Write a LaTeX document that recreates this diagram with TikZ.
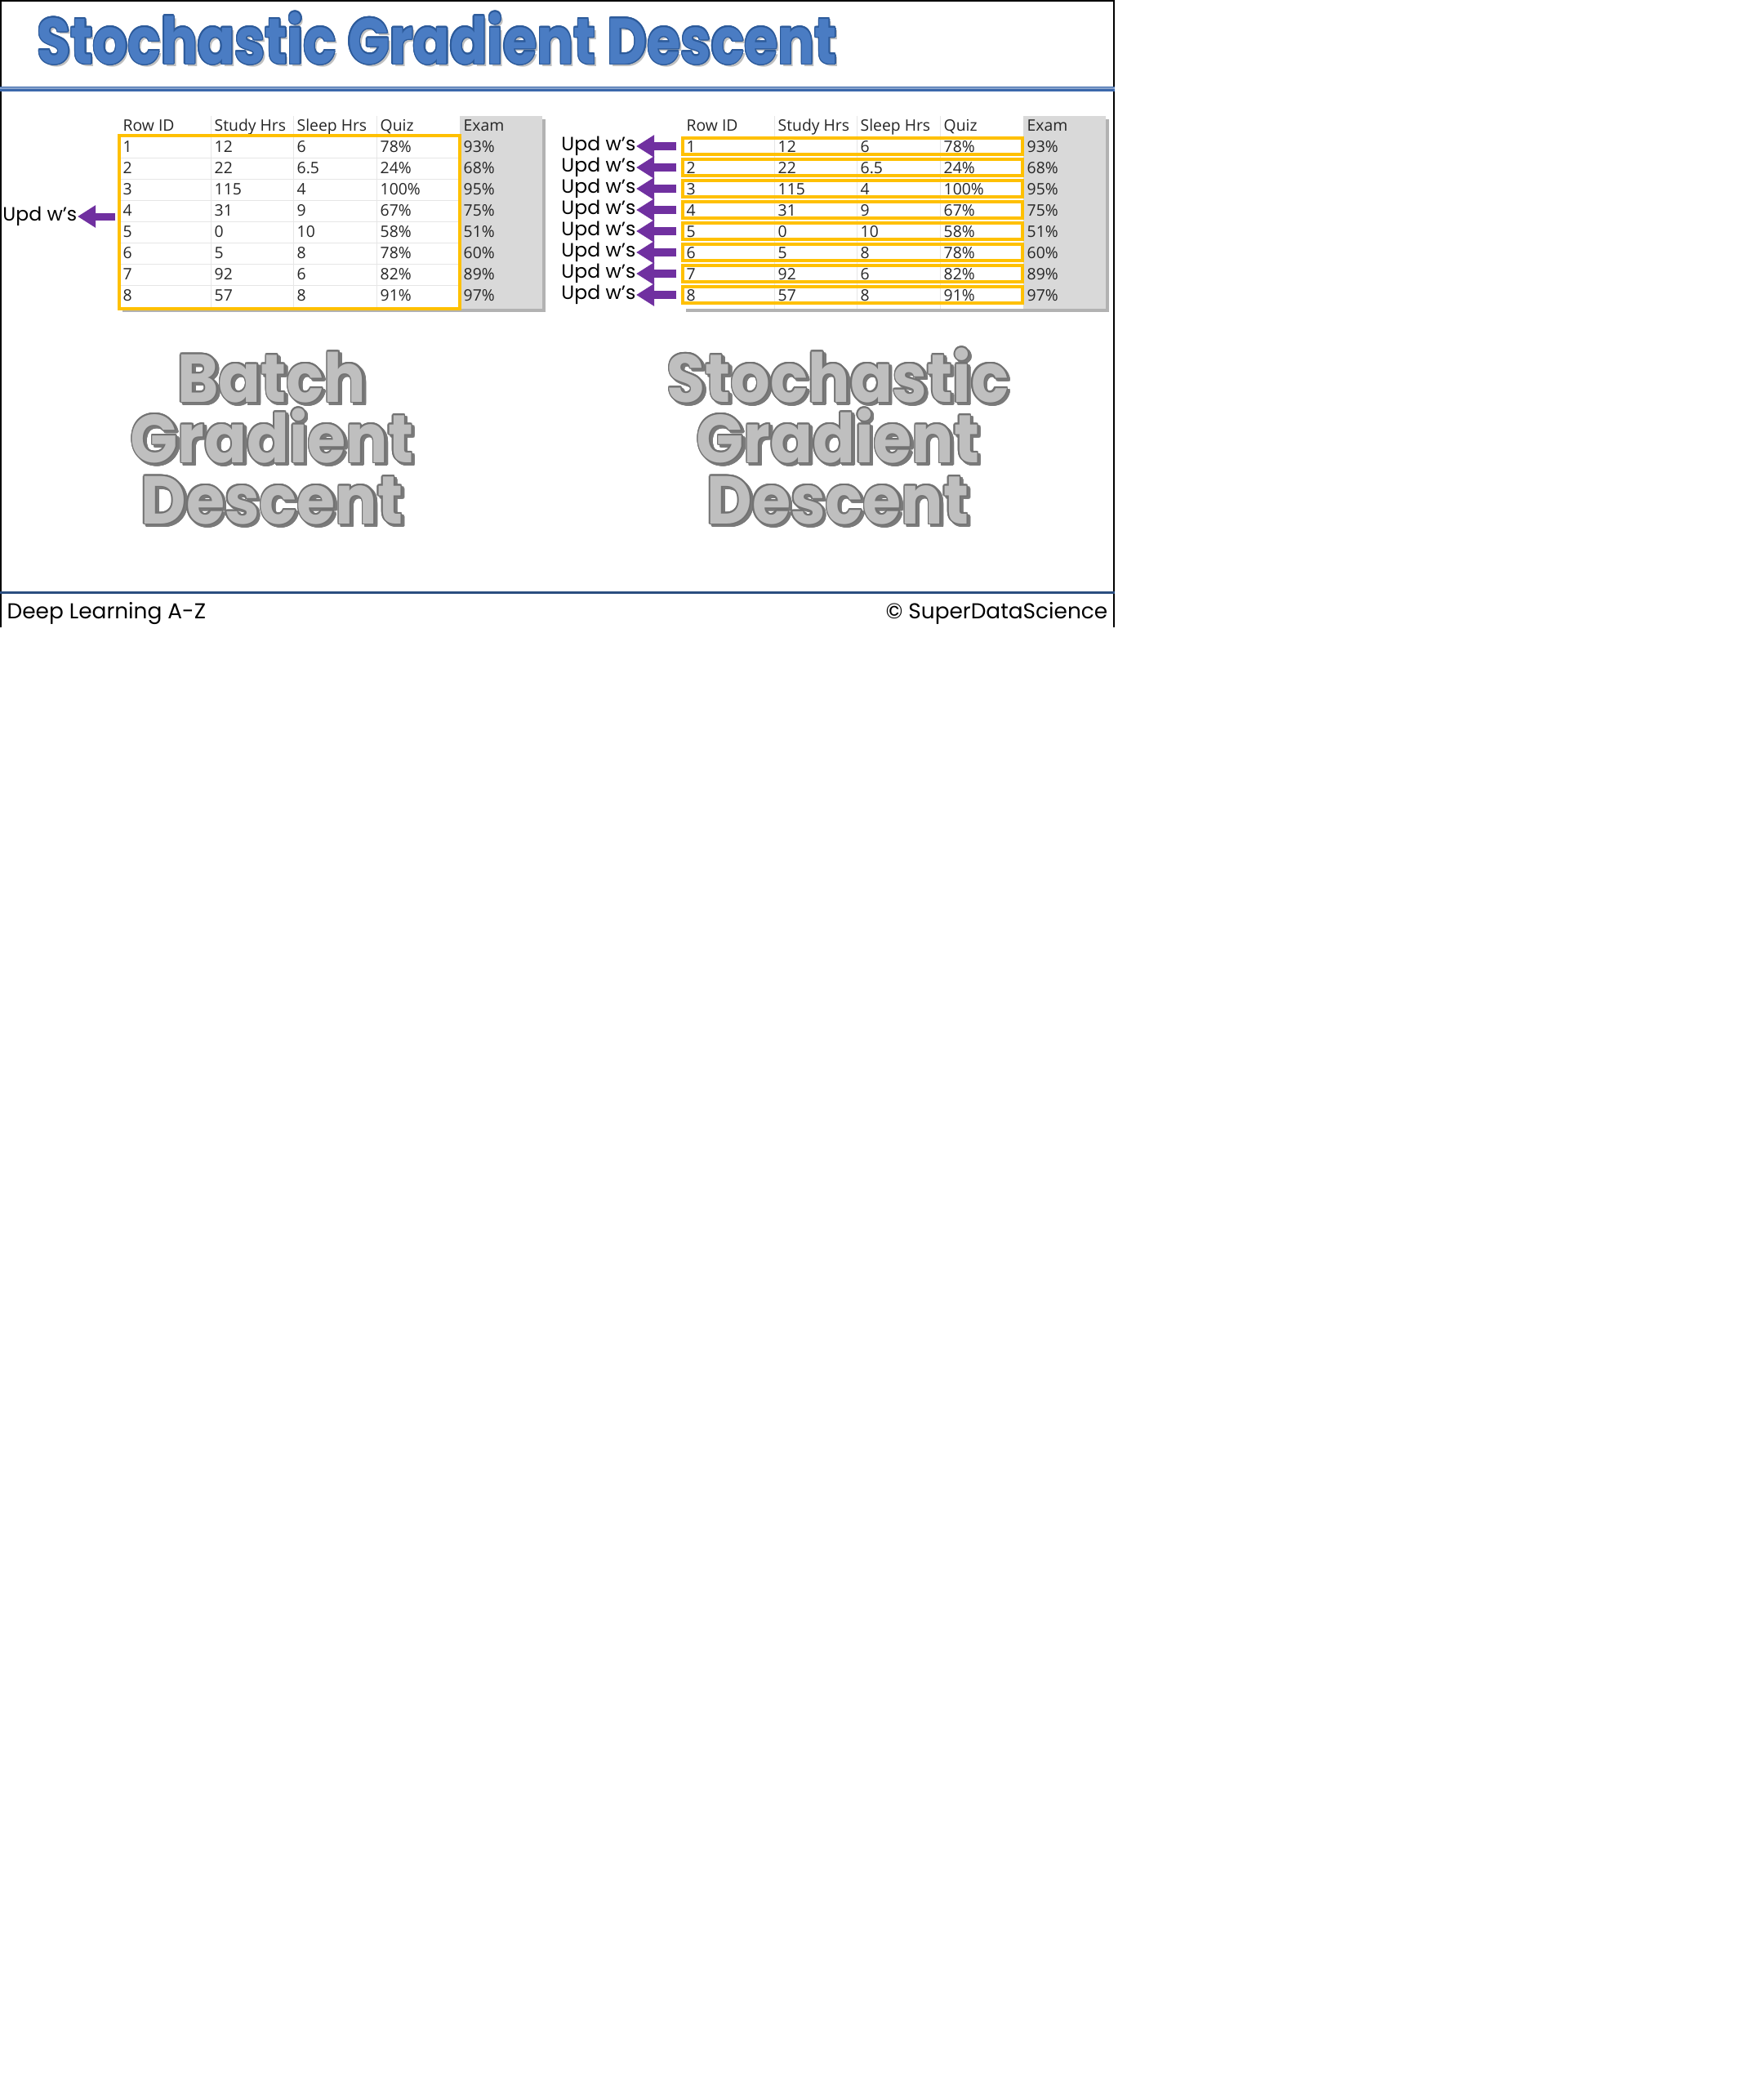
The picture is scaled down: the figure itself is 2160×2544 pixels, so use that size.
\documentclass[tikz,border=0pt]{standalone}
\usepackage{fontspec}
\setmainfont{Poppins}
\newfontfamily\tablefont{Open Sans}
\usepackage{xcolor}
\usepackage{tikz}
\usepackage{contour}
\usetikzlibrary{arrows.meta}

\definecolor{titleblue}{HTML}{4A7CC3}
\definecolor{titleedge}{HTML}{2C5A9A}
\definecolor{ruleblue}{HTML}{3B68AB}
\definecolor{footblue}{HTML}{2B4E80}
\definecolor{boxyellow}{HTML}{FFC000}
\definecolor{updpurple}{HTML}{7030A0}
\definecolor{examgray}{HTML}{D9D9D9}
\definecolor{gridgray}{HTML}{E6E6E6}
\definecolor{bigfill}{HTML}{BFBFBF}
\definecolor{bigedge}{HTML}{727272}
\definecolor{bigshadow}{HTML}{7A7A7A}

\begin{document}
\begin{tikzpicture}[x=0.01cm, y=-0.01cm,
    cell/.style={anchor=base west, inner sep=0pt, text=black!85,
      font=\tablefont\fontsize{5.5}{6}\selectfont},
    updtext/.style={anchor=east, inner sep=0pt, font=\fontsize{6.7}{7}\selectfont},
    updarrow/.style={-{Triangle[length=2.2mm, width=2.6mm]}, line width=1mm, draw=updpurple},
    bigword/.style={anchor=base, inner sep=0pt, font=\bfseries\fontsize{23.6}{24}\selectfont},
    rowbox/.style={draw=boxyellow, line width=0.4mm, minimum width=4.15cm, minimum height=0.2cm, inner sep=0pt}]
        \useasboundingbox (0,0) rectangle (2160,2544);

        % Slide frame and rules
        \draw[line width=0.2mm] (1,768) -- (1,1) -- (1364,1) -- (1364,768);
        \draw[ruleblue, line width=0.65mm] (0,109) -- (1365,109);
        \draw[ruleblue!60, line width=0.15mm] (0,108) -- (1365,108);
        \draw[footblue, line width=0.3mm] (0,725) -- (1365,725);

        % Title
        \contourlength{0.45pt}
        \node[anchor=base west, inner sep=0pt, text=black!25, font=\bfseries\fontsize{22.5}{23}\selectfont]
          at (48,81) {\scalebox{0.845}[1]{Stochastic Gradient Descent}};
        \node[anchor=base west, inner sep=0pt, text=titleblue, font=\bfseries\fontsize{22.5}{23}\selectfont]
          (title) at (45,78) {\scalebox{0.845}[1]{\contour{titleedge}{Stochastic Gradient Descent}}};

        % Footer
        \node[anchor=base west, inner sep=0pt, font=\fontsize{7.5}{8}\selectfont] (course) at (8,757) {Deep Learning A-Z};
        \node[anchor=base east, inner sep=0pt, font=\fontsize{7.5}{8}\selectfont] (brand) at (1357,757) {© SuperDataScience};

        % Tables
        \foreach \t/\dx in {l/0, r/690} {
          \begin{scope}[xshift=\dx*0.01cm]
            \fill[black!30] (150,146) rectangle (668,382);
            \fill[white] (146,142) rectangle (563,378);
            \fill[examgray] (563,142) rectangle (664,378);
            \foreach \yy in {167,193,...,349} \draw[gridgray, line width=0.1mm] (146,\yy) -- (563,\yy);
            \foreach \xx in {258,359,461} \draw[gridgray, line width=0.1mm] (\xx,142) -- (\xx,378);
            \node[cell] (\t head1) at (150,160) {Row ID};
            \node[cell] (\t head2) at (262,160) {Study Hrs};
            \node[cell] (\t head3) at (363,160) {Sleep Hrs};
            \node[cell] (\t head4) at (465,160) {Quiz};
            \node[cell] (\t head5) at (567,160) {Exam};
            \foreach \id/\study/\sleep/\quiz/\exam [count=\k] in
              {1/12/6/78\%/93\%, 2/22/6.5/24\%/68\%, 3/115/4/100\%/95\%, 4/31/9/67\%/75\%,
               5/0/10/58\%/51\%, 6/5/8/78\%/60\%, 7/92/6/82\%/89\%, 8/57/8/91\%/97\%} {
              \node[cell] (\t id\k) at (150,{186+26*(\k-1)}) {\id};
              \node[cell] (\t study\k) at (262,{186+26*(\k-1)}) {\study};
              \node[cell] (\t sleep\k) at (363,{186+26*(\k-1)}) {\sleep};
              \node[cell] (\t quiz\k) at (465,{186+26*(\k-1)}) {\quiz};
              \node[cell] (\t exam\k) at (567,{186+26*(\k-1)}) {\exam};
            }
          \end{scope}
        }

        % Batch: one box, one update
        \node[draw=boxyellow, line width=0.35mm, minimum width=4.17cm, minimum height=2.12cm, inner sep=0pt]
          (lbox) at (354.5,272) {};
        \node[updtext] (lupd) at (95,265) {Upd w’s};
        \coordinate (lstart) at (141,265);
        \draw[updarrow, line width=0.9mm] (lstart) -- (lupd.east);

        % Stochastic: one box and one update per row
        \foreach \k in {1,...,8} {
          \node[rowbox] (rbox\k) at (1044,{179+26*(\k-1)}) {};
          \node[updtext] (rupd\k) at (779,{179+26*(\k-1)}) {Upd w’s};
          \draw[updarrow, shorten <=0.6mm] (rbox\k.west) -- (rupd\k.east);
        }

        % Big outlined words
        \foreach \word/\xx/\yy [count=\n] in {Batch/333/492, Gradient/333/566, Descent/333/641,
                                             Stochastic/1026/492, Gradient/1026/566, Descent/1026/641} {
          \contourlength{0.5pt}
          \node[bigword, text=bigshadow] at (\xx+3,\yy+3) {\scalebox{0.92}[1]{\contour{bigshadow}{\word}}};
          \node[bigword, text=bigfill] (big\n) at (\xx,\yy) {\scalebox{0.92}[1]{\contour{bigedge}{\word}}};
        }
\end{tikzpicture}
\end{document}
